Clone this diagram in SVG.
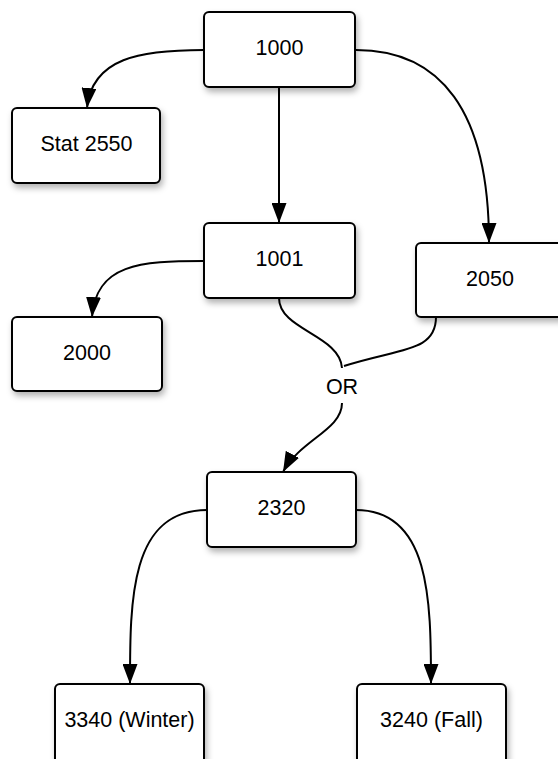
<svg xmlns="http://www.w3.org/2000/svg" width="558" height="759" viewBox="0 0 558 759">
<defs>
<filter id="sh" x="-20%" y="-20%" width="140%" height="150%">
<feDropShadow dx="2" dy="4" stdDeviation="3" flood-color="#000" flood-opacity="0.3"/>
</filter>
<marker id="ah" viewBox="0 0 20 15" refX="20" refY="7.5" markerWidth="20" markerHeight="15" markerUnits="userSpaceOnUse" orient="auto">
<path d="M0,0 L20,7.5 L0,15 Z" fill="#000"/>
</marker>
<style>
.box{fill:#fff;stroke:#000;stroke-width:2;filter:url(#sh)}
.lbl{font-family:"Liberation Sans",Arial,sans-serif;font-size:21.5px;fill:#000;text-anchor:middle}
.c{fill:none;stroke:#000;stroke-width:2}
.ca{fill:none;stroke:#000;stroke-width:2;marker-end:url(#ah)}
</style>
</defs>
<g id="connectors">
<path class="ca" d="M204,50 C140,50 92,58 87,108"/>
<path class="ca" d="M279,87 L279,223"/>
<path class="ca" d="M356,50 C440,50 489,110 489,243"/>
<path class="ca" d="M204,261 C140,261 96,264 92,317"/>
<path class="c" d="M279,298 C279,330 340,335 342,368"/>
<path class="c" d="M436,317 C436,352 400,348 344,366"/>
<path class="ca" d="M342,403 C342,430 300,440 283,472"/>
<path class="ca" d="M207,510 C130,510 130,600 130,684"/>
<path class="ca" d="M356,510 C430,510 431,600 431,684"/>
<text class="lbl" x="342" y="393.5">OR</text>
</g>
<g id="n1000"><rect class="box" x="204" y="12" width="151" height="75" rx="5"/><text class="lbl" x="279.5" y="55">1000</text></g>
<g id="nStat2550"><rect class="box" x="12" y="108" width="148" height="75" rx="5"/><text class="lbl" x="86.5" y="151">Stat 2550</text></g>
<g id="n1001"><rect class="box" x="204" y="223" width="151" height="75" rx="5"/><text class="lbl" x="279.5" y="266">1001</text></g>
<g id="n2050"><rect class="box" x="416" y="243" width="150" height="74" rx="5"/><text class="lbl" x="490" y="286">2050</text></g>
<g id="n2000"><rect class="box" x="12" y="317" width="150" height="74" rx="5"/><text class="lbl" x="87" y="360">2000</text></g>
<g id="n2320"><rect class="box" x="207" y="472" width="149" height="75" rx="5"/><text class="lbl" x="281.5" y="515">2320</text></g>
<g id="n3340"><rect class="box" x="55" y="684" width="149" height="80" rx="5"/><text class="lbl" x="129.5" y="727">3340 (Winter)</text></g>
<g id="n3240"><rect class="box" x="357" y="684" width="149" height="80" rx="5"/><text class="lbl" x="431.5" y="727">3240 (Fall)</text></g>
</svg>
